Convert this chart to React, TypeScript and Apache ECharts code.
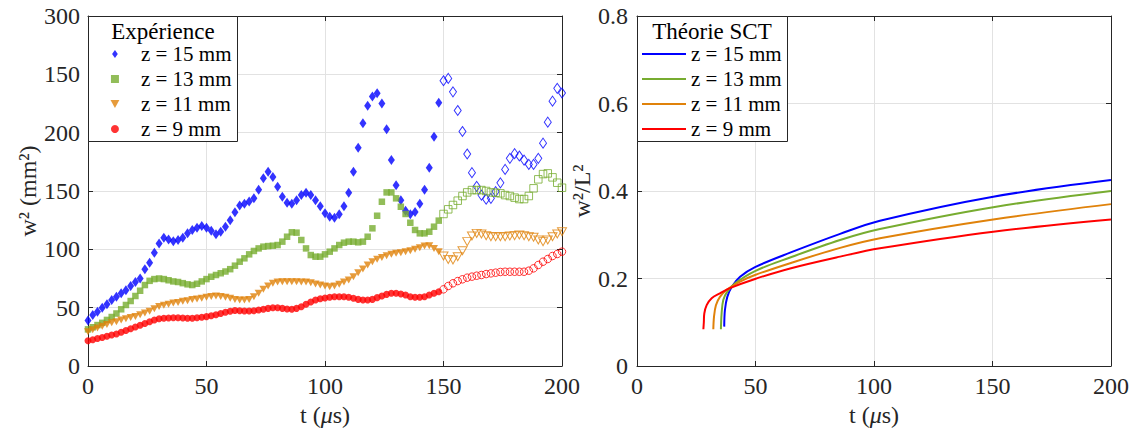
import React, { useEffect, useRef } from "react";
import * as echarts from "echarts";

const FONT = "'Liberation Serif', 'Times New Roman', Times, serif";
const AXIS_COLOR = "#262626";
const GRID_COLOR = "#e2e2e2";

const BLUE = "#0000ff";
const GREEN = "#77ac30";
const ORANGE = "#e0820a";
const RED = "#ff0000";

// Sample times (µs)
const tFilled = [
  0, 2, 4, 6, 8, 10, 12, 14, 16, 18, 20, 22, 24, 26, 28, 30, 32, 34, 36, 38,
  40, 42, 44, 46, 48, 50, 52, 54, 56, 58, 60, 62, 64, 66, 68, 70, 72, 74, 76, 78,
  80, 82, 84, 86, 88, 90, 92, 94, 96, 98, 100, 102, 104, 106, 108, 110, 112, 114, 116, 118,
  120, 122, 124, 126, 128, 130, 132, 134, 136, 138, 140, 142, 144, 146, 148,
];
const tHollow = [
  150, 152, 154, 156, 158, 160, 162, 164, 166, 168, 170, 172, 174, 176, 178, 180,
  182, 184, 186, 188, 190, 192, 194, 196, 198, 200,
];

// Expérience: w^2 (mm^2)
const z15Filled = [
  39, 43.7, 46.6, 50, 53, 56.6, 59.4, 62.3, 65, 68.6, 72, 75, 83, 88.5, 97, 105, 110, 108.5, 107, 108,
  110, 113.7, 116.5, 118.5, 120, 118.5, 116, 113, 115, 119.4, 125, 131.7, 137.5, 139, 141, 143.7, 151, 161, 166.5, 162,
  153.7, 145, 140, 139, 142, 146.5, 148.5, 146.5, 142, 137, 131, 128, 127, 130, 137, 148.5, 166.5, 187, 208, 223,
  231, 233.7, 225, 203, 176.5, 155, 142, 133, 130, 132, 139, 151, 170, 196.5, 225.7,
];
const z15Hollow = [
  244.5, 246.5, 235, 219, 201, 181.7, 165.7, 154, 146.5, 143, 143.7, 149.5, 157, 168.5, 178, 182,
  180, 176.5, 172.8, 172.8, 178, 191, 209, 227, 238, 234,
];
const z13Filled = [
  31.4, 33.2, 35.1, 37, 39.5, 42, 45, 48.6, 52.3, 55.7, 60, 64.5, 69.4, 73, 74.5, 75, 74.5, 73.5, 72.5, 72,
  71, 70, 69.4, 70.5, 72.5, 74.5, 76.5, 78, 79.5, 81, 83, 86, 89.4, 92.3, 95.7, 98.6, 100.8, 102.3, 102.8, 103.1,
  103.7, 106.6, 110.8, 114.6, 114.3, 108, 100.8, 95.1, 93.7, 93.7, 95.7, 98, 100.8, 103.7, 105.7, 106.6, 106.6, 106, 106.6, 110.8,
  118, 128.8, 140.8, 148.8, 148.8, 143.7, 136.5, 130.3, 122.8, 116.6, 113.7, 113.7, 115.1, 119.4, 124.6,
];
const z13Hollow = [
  130.3, 134.3, 138, 141.7, 145.7, 148.8, 150.8, 150.8, 150.8, 150, 148.8, 148.5, 148, 146.5, 145.7, 144.3,
  143.1, 143.1, 145.7, 152.3, 160, 164.5, 165.1, 161.7, 157.1, 152.8,
];
const z11Filled = [
  29.4, 31, 32.5, 34, 35.5, 37, 38, 39.5, 40.5, 41.5, 42.5, 44, 45.5, 47, 49, 51, 52, 53, 54, 54.5,
  55.5, 56, 57, 57.5, 58, 59, 59.5, 60, 59.5, 59, 58, 57, 56.6, 56.6, 57.1, 59.4, 62.3, 65.7, 68.6, 70.9,
  72, 72.3, 72.3, 72.3, 72.3, 72, 72, 71.4, 70.3, 69.4, 68.6, 68, 68.6, 70, 72, 73.7, 76.6, 80, 83.1, 86.6,
  89.4, 91.4, 93.1, 94.6, 95.7, 96.6, 97.1, 98, 98.8, 100, 101.4, 102.8, 103.1, 100.8, 98,
];
const z11Hollow = [
  94.3, 91.4, 90.8, 93.7, 98.8, 106.6, 111.4, 113.7, 113.1, 111.7, 110.8, 110.8, 110.8, 110.8, 111.4, 111.7,
  112.3, 111.7, 110.8, 110.3, 108, 106.6, 108, 110.8, 113.1, 115.1,
];
const z9Filled = [
  21.7, 22.5, 23.5, 24.5, 25.5, 26.5, 27.5, 29, 30.5, 32, 33.5, 35, 36.5, 38, 39.5, 40.5, 41, 41.2, 41.3, 41.3,
  41.2, 41, 41, 41.3, 41.8, 42.3, 43, 44, 45, 46, 47, 47.5, 47.4, 47.1, 47.1, 47.4, 48, 48.6, 49.4, 50,
  50, 49.4, 48.8, 48.6, 49.4, 50.8, 52.9, 54.8, 56.6, 57.7, 58.3, 58.9, 59.4, 59.4, 59.4, 58.9, 58, 57.1, 56.6, 56.6,
  57.1, 58.6, 60, 61.4, 62.3, 62.3, 61.7, 60.8, 59.4, 58.9, 58.9, 59.4, 60.8, 62.3, 63.7,
];
const z9Hollow = [
  65.7, 68.6, 70.9, 72.8, 74.3, 75.7, 76.6, 77.4, 78, 78.8, 79.4, 80, 80.6, 80.8, 80.8, 80.8,
  80.8, 80.8, 81.7, 83.7, 86.6, 89.4, 91.7, 94.3, 96, 98,
];

// Théorie SCT: w^2/L^2
const sct15T = [36.8, 37.1, 38.1, 40, 43.5, 49.8, 64.6, 85.7, 102.5, 150.3, 200];
const sct15V = [0.09, 0.128, 0.158, 0.181, 0.204, 0.226, 0.259, 0.302, 0.332, 0.387, 0.425];
const sct13T = [35.4, 35.7, 36.4, 38.1, 41.4, 49.8, 64.6, 85.7, 102.5, 150.3, 200];
const sct13V = [0.084, 0.12, 0.151, 0.17, 0.189, 0.217, 0.248, 0.288, 0.313, 0.363, 0.4];
const sct11T = [32.2, 32.5, 33.3, 35, 37.8, 43.5, 49.8, 64.6, 85.7, 102.5, 150.3, 200];
const sct11V = [0.084, 0.113, 0.139, 0.158, 0.174, 0.193, 0.208, 0.235, 0.27, 0.292, 0.335, 0.37];
const sct9T = [28, 28.2, 28.4, 29.4, 31.5, 35, 39.2, 49.8, 64.6, 85.7, 102.5, 150.3, 200];
const sct9V = [0.084, 0.1, 0.12, 0.139, 0.155, 0.166, 0.178, 0.199, 0.223, 0.25, 0.269, 0.307, 0.335];

const seriesNames = ["z = 15 mm", "z = 13 mm", "z = 11 mm", "z = 9 mm"];
const leftYTickLabels = ["0", "50", "100", "150", "200", "150", "300"];

const DIAMOND = "path://M5,0L10,7L5,14L0,7Z";
const SQUARE = "path://M0,0L10,0L10,10L0,10Z";
const TRI_DOWN = "path://M0,0L10,0L5,9Z";
const CIRCLE = "circle";
const LINE_ICON = "path://M0,0L44,0L44,2L0,2Z";

const zip = (xs: number[], ys: number[]) => xs.map((x, i) => [x, ys[i]]);

export default function App() {
  const ref = useRef<HTMLDivElement>(null);

  useEffect(() => {
    if (!ref.current) return;
    const chart = echarts.init(ref.current, undefined, { renderer: "svg" });

    const labelStyle = { fontFamily: FONT, fontSize: 24, color: AXIS_COLOR };
    const axisLine = { show: true, onZero: false, lineStyle: { color: AXIS_COLOR, width: 1 } };
    const axisTick = { show: true, inside: true, length: 5, lineStyle: { color: AXIS_COLOR } };
    const splitLine = { show: true, lineStyle: { color: GRID_COLOR, width: 1 } };

    const xName = "t ({mu|μ}s)";
    const xNameStyle = {
      ...labelStyle,
      rich: { mu: { fontFamily: FONT, fontSize: 24, fontStyle: "italic", color: AXIS_COLOR } },
    };

    const bottomX = (g: number) => ({
      gridIndex: g,
      type: "value",
      min: 0,
      max: 200,
      interval: 50,
      position: "bottom",
      name: xName,
      nameLocation: "middle",
      nameGap: 36,
      nameTextStyle: xNameStyle,
      axisLine,
      axisTick,
      axisLabel: { ...labelStyle, margin: 8 },
      splitLine,
    });
    const topX = (g: number) => ({
      gridIndex: g,
      type: "value",
      min: 0,
      max: 200,
      interval: 50,
      position: "top",
      axisLine,
      axisTick,
      axisLabel: { show: false },
      splitLine: { show: false },
    });

    const hollowStyle = (c: string) => ({ color: "rgba(0,0,0,0)", borderColor: c, borderWidth: 1 });

    const scatter = (
      name: string,
      t: number[],
      v: number[],
      symbol: string,
      size: number | number[],
      color: string,
      hollow: boolean
    ) => ({
      type: "scatter",
      name,
      xAxisIndex: 0,
      yAxisIndex: 0,
      symbol,
      symbolSize: size,
      itemStyle: hollow ? hollowStyle(color) : { color },
      data: zip(t, v),
      z: 2,
    });

    const line = (name: string, t: number[], v: number[], color: string) => ({
      type: "line",
      name: "SCT " + name,
      xAxisIndex: 2,
      yAxisIndex: 2,
      symbol: "none",
      smooth: 0.35,
      lineStyle: { color, width: 2 },
      itemStyle: { color },
      data: zip(t, v),
    });

    const legendBase = {
      orient: "vertical",
      top: 16,
      itemGap: 4,
      itemHeight: 8,
      textStyle: { fontFamily: FONT, fontSize: 21, lineHeight: 21, color: "#000" },
      selectedMode: false,
      symbolKeepAspect: true,
    };

    chart.setOption({
      animation: false,
      backgroundColor: "#fff",
      grid: [
        { left: 88, top: 16, width: 474, height: 350 },
        { left: 637, top: 16, width: 474, height: 350 },
      ],
      xAxis: [bottomX(0), topX(0), bottomX(1), topX(1)],
      yAxis: [
        {
          gridIndex: 0,
          type: "value",
          min: 0,
          max: 300,
          interval: 50,
          position: "left",
          name: "w² (mm²)",
          nameLocation: "middle",
          nameGap: 47,
          nameTextStyle: labelStyle,
          axisLine,
          axisTick,
          axisLabel: {
            ...labelStyle,
            margin: 8,
            formatter: (val: number) => leftYTickLabels[Math.round(val / 50)],
          },
          splitLine,
        },
        {
          gridIndex: 0,
          type: "value",
          min: 0,
          max: 300,
          interval: 50,
          position: "right",
          axisLine,
          axisTick,
          axisLabel: { show: false },
          splitLine: { show: false },
        },
        {
          gridIndex: 1,
          type: "value",
          min: 0,
          max: 0.8,
          interval: 0.2,
          position: "left",
          name: "w²/L²",
          nameLocation: "middle",
          nameGap: 42,
          nameTextStyle: labelStyle,
          axisLine,
          axisTick,
          axisLabel: { ...labelStyle, margin: 9 },
          splitLine,
        },
        {
          gridIndex: 1,
          type: "value",
          min: 0,
          max: 0.8,
          interval: 0.2,
          position: "right",
          axisLine,
          axisTick,
          axisLabel: { show: false },
          splitLine: { show: false },
        },
      ],
      legend: [
        {
          ...legendBase,
          left: 88,
          padding: [27.5, 5, 2, 22.5],
          itemWidth: 42,
          data: [
            { name: seriesNames[0], icon: DIAMOND },
            { name: seriesNames[1], icon: SQUARE },
            { name: seriesNames[2], icon: TRI_DOWN },
            { name: seriesNames[3], icon: CIRCLE },
          ],
        },
        {
          ...legendBase,
          left: 637,
          padding: [27.5, 5, 2, 5],
          itemWidth: 44,
          data: seriesNames.map((n) => ({ name: "SCT " + n, icon: LINE_ICON })),
          formatter: (n: string) => n.replace("SCT ", ""),
        },
      ],
      graphic: [
        {
          type: "rect",
          z: 3,
          shape: { x: 88.5, y: 16.5, width: 149, height: 125 },
          style: { fill: "#fff", stroke: AXIS_COLOR, lineWidth: 1 },
        },
        {
          type: "text",
          z: 5,
          x: 163,
          y: 31,
          style: {
            text: "Expérience",
            font: `23px ${FONT}`,
            fill: "#000",
            textAlign: "center",
            textVerticalAlign: "middle",
          },
        },
        {
          type: "rect",
          z: 3,
          shape: { x: 637.5, y: 16.5, width: 150, height: 125 },
          style: { fill: "#fff", stroke: AXIS_COLOR, lineWidth: 1 },
        },
        {
          type: "text",
          z: 5,
          x: 712,
          y: 31,
          style: {
            text: "Théorie SCT",
            font: `23px ${FONT}`,
            fill: "#000",
            textAlign: "center",
            textVerticalAlign: "middle",
          },
        },
      ],
      series: [
        scatter(seriesNames[0], tFilled, z15Filled, DIAMOND, [7, 10], BLUE, false),
        scatter(seriesNames[1], tFilled, z13Filled, SQUARE, 6.5, GREEN, false),
        scatter(seriesNames[2], tFilled, z11Filled, TRI_DOWN, [8, 7], ORANGE, false),
        scatter(seriesNames[3], tFilled, z9Filled, CIRCLE, 7, RED, false),
        scatter(seriesNames[0] + " ", tHollow, z15Hollow, DIAMOND, [7, 10], BLUE, true),
        scatter(seriesNames[1] + " ", tHollow, z13Hollow, SQUARE, 7.5, GREEN, true),
        scatter(seriesNames[2] + " ", tHollow, z11Hollow, TRI_DOWN, [9, 8], ORANGE, true),
        scatter(seriesNames[3] + " ", tHollow, z9Hollow, CIRCLE, 7.5, RED, true),
        line(seriesNames[0], sct15T, sct15V, BLUE),
        line(seriesNames[1], sct13T, sct13V, GREEN),
        line(seriesNames[2], sct11T, sct11V, ORANGE),
        line(seriesNames[3], sct9T, sct9V, RED),
      ],
    });

    return () => chart.dispose();
  }, []);

  return (
    <div
      ref={ref}
      style={{ position: "fixed", left: 0, top: 0, width: 1137, height: 435, background: "#fff" }}
    />
  );
}
